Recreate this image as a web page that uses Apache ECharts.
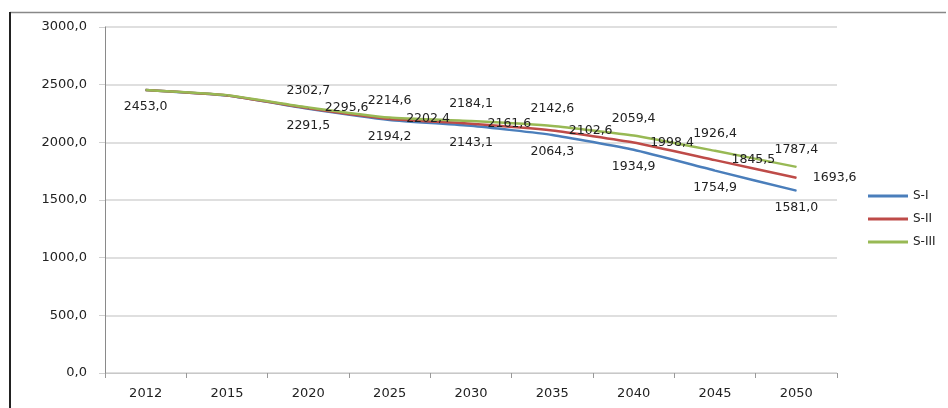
<!DOCTYPE html>
<html>
<head>
<meta charset="utf-8">
<script src="https://cdn.jsdelivr.net/npm/echarts@6/dist/echarts.min.js"></script>
<style>html,body{margin:0;padding:0;background:#fff;}#c{width:948px;height:408px;}</style>
</head>
<body>
<div id="c"></div>
<script>
const categories = ['2012','2015','2020','2025','2030','2035','2040','2045','2050'];
const seriesNames = ['S-I','S-II','S-III'];
const sI   = [2453.0, 2405.0, 2291.5, 2194.2, 2143.1, 2064.3, 1934.9, 1754.9, 1581.0];
const sII  = [2453.0, 2406.0, 2295.6, 2202.4, 2161.6, 2102.6, 1998.4, 1845.5, 1693.6];
const sIII = [2453.0, 2408.0, 2302.7, 2214.6, 2184.1, 2142.6, 2059.4, 1926.4, 1787.4];
const yTicks = [0, 500, 1000, 1500, 2000, 2500, 3000];

const colors = ['#4a7ebb', '#be4b48', '#98b954'];
const font = 'DejaVu Sans';
const fmt = v => Number(v).toFixed(1).replace('.', ',');

function mk(name, vals, color, pos, dist, hide) {
  return {
    name: name, type: 'line', smooth: 0.15,
    symbol: 'circle', symbolSize: 1,
    itemStyle: {color: color},
    lineStyle: {color: color, width: 2.5},
    label: {show: true, position: pos, distance: dist, color: '#222',
            fontFamily: font, fontSize: 12.5,
            formatter: p => fmt(p.value)},
    data: vals.map((v, i) => hide.includes(i) ? {value: v, label: {show: false}} : v),
    z: 3
  };
}

const chart = echarts.init(document.getElementById('c'));
chart.setOption({
  animation: false,
  backgroundColor: '#fff',
  grid: {left: 105, right: 111, top: 27, bottom: 35},
  legend: {
    orient: 'vertical', left: 863, top: 184,
    icon: 'rect', itemWidth: 40, itemHeight: 3, itemGap: 9,
    textStyle: {fontFamily: font, fontSize: 12, color: '#222', lineHeight: 14},
    data: seriesNames
  },
  xAxis: {
    type: 'category', data: categories, boundaryGap: true,
    axisLine: {show: true, lineStyle: {color: '#c8c8c8', width: 1}},
    axisTick: {show: true, length: 5, alignWithLabel: false, lineStyle: {color: '#999'}},
    axisLabel: {fontFamily: font, fontSize: 13, color: '#222', margin: 14}
  },
  yAxis: {
    type: 'value', min: yTicks[0], max: yTicks[yTicks.length - 1], interval: 500,
    axisLine: {show: true, lineStyle: {color: '#8a8a8a', width: 1}},
    axisTick: {show: true, length: 6, lineStyle: {color: '#d0d0d0'}},
    splitLine: {show: true, lineStyle: {color: '#d4d4d4', width: 1.5}},
    axisLabel: {fontFamily: font, fontSize: 13, color: '#222', margin: 18, formatter: v => fmt(v)}
  },
  graphic: [
    {type: 'line', shape: {x1: 10, y1: 12.5, x2: 946, y2: 12.5}, style: {stroke: '#888', lineWidth: 1.5}, silent: true},
    {type: 'line', shape: {x1: 10, y1: 12, x2: 10, y2: 408}, style: {stroke: '#222', lineWidth: 2}, silent: true}
  ],
  series: [
    mk(seriesNames[0], sI, colors[0], 'bottom', 10, [1]),
    mk(seriesNames[1], sII, colors[1], 'right', 16, [0, 1]),
    mk(seriesNames[2], sIII, colors[2], 'top', 10, [0, 1])
  ]
});
</script>
</body>
</html>
